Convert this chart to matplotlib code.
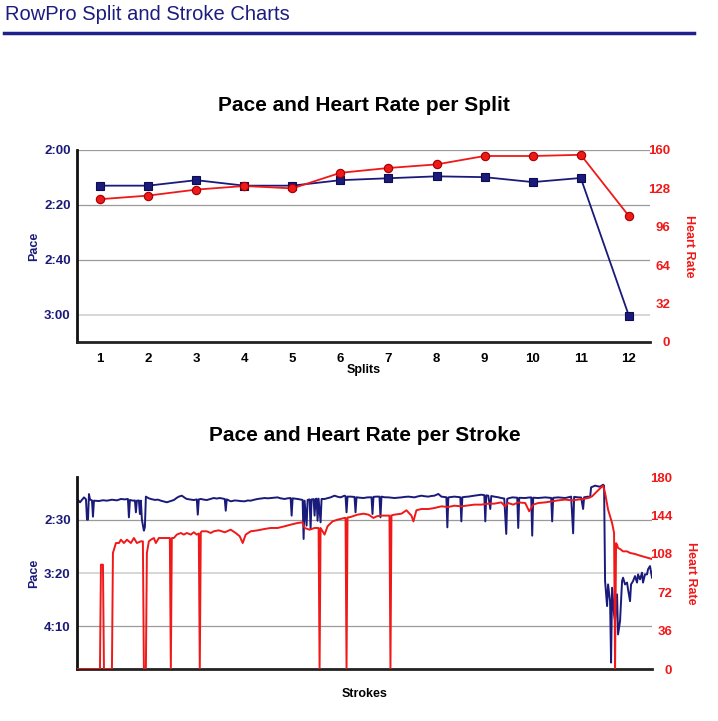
import matplotlib
matplotlib.use("Agg")
import matplotlib.pyplot as plt
from matplotlib.ticker import FuncFormatter
from matplotlib.lines import Line2D

plt.rcParams['font.family'] = ['Liberation Sans', 'DejaVu Sans']

# --- split data ---
splits = [1, 2, 3, 4, 5, 6, 7, 8, 9, 10, 11, 12]
split_pace = [133.0, 133.0, 131.0, 133.0, 133.0, 131.0, 130.3, 129.6, 129.9, 131.7, 130.2, 180.4]   # seconds / 500m
split_hr = [119, 122, 127, 130, 128, 141, 145, 148, 155, 155, 156, 105]

# --- per stroke data (stroke number, value) ---
stroke_pace_n = [0, 3, 7, 9, 10, 11, 12, 13, 15, 16, 17, 22, 26, 30, 35, 40, 44, 48, 51, 52, 53, 56, 58, 59, 60,
                 62, 63, 64, 65, 66, 67, 68, 69, 72, 74, 78, 81, 84, 87, 90, 94, 97, 100, 102, 105, 108, 110, 114,
                 117, 120, 121, 122, 124, 127, 130, 134, 137, 140, 143, 146, 148, 149, 150, 154, 158, 161, 164, 168,
                 171, 174, 178, 181, 184, 188, 191, 194, 198, 201, 204, 208, 211, 214, 215, 216, 219, 221, 224, 226,
                 227, 228, 230, 231, 233, 234, 235, 237, 238, 239, 240, 241, 242, 244, 245, 248, 251, 254, 258, 261,
                 264, 268, 269, 270, 271, 274, 278, 279, 280, 283, 287, 291, 295, 296, 297, 300, 303, 304, 305, 308,
                 312, 315, 318, 322, 325, 328, 332, 335, 338, 341, 345, 348, 352, 355, 358, 362, 365, 368, 370, 371,
                 372, 375, 378, 382, 384, 385, 386, 389, 392, 395, 398, 402, 405, 408, 409, 410, 412, 414, 415, 418,
                 422, 425, 428, 430, 431, 433, 436, 439, 441, 442, 443, 446, 449, 452, 455, 456, 457, 460, 462, 466,
                 469, 472, 475, 476, 477, 480, 482, 486, 489, 492, 495, 497, 498, 502, 505, 507, 508, 512, 514, 515,
                 519, 522, 524, 527, 528, 529, 531, 532, 534, 535, 536, 538, 539, 541, 542, 544, 546, 547, 549, 551,
                 552, 554, 555, 557, 559, 561, 562, 564, 566, 567, 569, 571, 572, 574, 576]
stroke_pace = [130.6, 133.7, 129.1, 131.0, 150.0, 150.0, 126.0, 131.0, 132.0, 147.2, 132.2, 132.5, 131.8, 132.2,
               131.3, 131.9, 130.6, 131.0, 130.6, 147.8, 131.5, 132.2, 132.0, 143.1, 132.2, 132.0, 144.7, 132.2,
               150.0, 155.0, 160.3, 157.0, 128.4, 130.0, 130.6, 131.5, 131.2, 132.2, 133.0, 133.7, 132.5, 131.6,
               129.5, 128.4, 127.5, 129.5, 130.6, 131.2, 131.6, 131.0, 145.3, 131.0, 130.6, 131.2, 131.6, 130.5,
               129.7, 130.2, 129.7, 130.3, 130.6, 141.6, 131.0, 132.8, 132.0, 132.2, 132.6, 132.8, 132.0, 132.2,
               131.2, 130.6, 130.2, 129.7, 130.0, 129.7, 129.4, 129.1, 130.0, 130.6, 130.0, 129.7, 146.2, 130.0,
               130.3, 130.6, 131.2, 131.5, 168.1, 132.2, 155.6, 131.5, 131.0, 158.7, 131.0, 130.8, 146.2, 130.6,
               130.3, 151.0, 130.3, 152.5, 130.6, 130.6, 129.8, 129.1, 127.5, 128.5, 129.1, 127.5, 128.0, 143.1,
               128.4, 128.4, 128.7, 143.1, 129.0, 129.4, 129.7, 129.1, 129.0, 144.7, 128.6, 128.4, 128.4, 147.8,
               128.4, 129.0, 129.1, 129.4, 129.7, 129.4, 129.1, 128.7, 128.4, 128.8, 129.1, 128.3, 127.5, 128.0,
               128.4, 127.8, 127.5, 125.9, 128.4, 128.8, 129.0, 157.2, 129.1, 128.7, 128.4, 128.8, 129.0, 151.6,
               129.0, 128.6, 128.4, 127.9, 127.5, 127.0, 126.6, 127.0, 151.6, 127.2, 127.5, 140.0, 127.8, 128.4,
               129.0, 129.7, 130.2, 163.4, 130.4, 129.8, 129.1, 129.3, 129.4, 157.8, 129.5, 129.6, 129.7, 129.3,
               129.1, 165.0, 129.4, 129.6, 129.7, 129.4, 129.1, 129.4, 129.6, 151.6, 129.5, 129.3, 129.1, 129.4,
               129.7, 129.0, 128.4, 162.8, 128.6, 129.1, 129.2, 140.0, 129.0, 128.4, 129.1, 119.7, 118.1, 118.8,
               119.1, 117.2, 118.1, 207.6, 231.0, 210.7, 226.4, 284.0, 213.8, 238.8, 245.0, 220.0, 257.6, 245.0,
               207.6, 204.4, 210.7, 209.0, 215.4, 226.4, 210.7, 207.6, 202.9, 209.0, 201.3, 206.0, 199.7, 209.0,
               201.3, 201.3, 196.6, 193.5, 204.4]

stroke_hr_n = [0, 23, 24, 26, 27, 35, 36, 39, 42, 44, 47, 50, 54, 57, 60, 64, 66, 67, 69, 70, 72, 74, 77, 79, 82,
               85, 88, 93, 94, 95, 97, 100, 104, 107, 110, 114, 117, 120, 122, 123, 124, 125, 130, 134, 137, 142,
               148, 154, 159, 163, 166, 169, 174, 181, 188, 194, 201, 208, 214, 221, 226, 228, 233, 238, 242, 243,
               244, 248, 251, 256, 261, 268, 269, 270, 271, 274, 278, 281, 287, 292, 297, 300, 305, 312, 313, 314,
               315, 318, 325, 330, 335, 337, 340, 345, 352, 358, 365, 372, 378, 385, 392, 398, 405, 412, 418, 425,
               429, 432, 437, 442, 449, 453, 457, 462, 469, 476, 482, 489, 496, 502, 507, 512, 516, 521, 526, 527,
               529, 532, 536, 538, 539, 540, 541, 542, 544, 547, 551, 554, 559, 564, 569, 576]
stroke_hr = [0, 0, 97.8, 97.8, 0, 0, 108.8, 118.1, 118.1, 121.2, 118.1, 121.2, 118.1, 122.8, 118.1, 119.7, 119.7,
             0, 0, 108.8, 119.7, 121.2, 122.8, 118.1, 122.8, 122.8, 122.8, 122.8, 0, 122.8, 122.8, 126.0, 127.5,
             126.0, 127.5, 126.0, 128.2, 126.0, 127.0, 0, 128.0, 129.1, 129.1, 127.5, 129.1, 130.0, 128.2, 130.6,
             127.5, 124.4, 118.1, 126.0, 129.1, 130.0, 131.3, 132.2, 132.2, 133.8, 135.3, 136.9, 137.5, 132.2,
             130.6, 132.2, 132.2, 0, 132.2, 126.0, 133.8, 138.4, 140.0, 141.6, 141.6, 0, 142.0, 142.5, 143.8,
             144.7, 145.6, 144.7, 141.6, 143.1, 143.8, 143.8, 143.8, 0, 144.0, 144.7, 145.6, 148.8, 143.8, 138.4,
             148.8, 150.0, 150.0, 150.9, 152.5, 151.9, 153.1, 152.5, 153.4, 154.1, 154.1, 155.0, 155.0, 156.2,
             152.5, 155.6, 154.1, 156.2, 155.6, 147.8, 154.1, 155.6, 156.2, 157.2, 158.1, 158.8, 158.1, 158.8,
             159.4, 160.3, 161.9, 166.6, 171.2, 171.9, 165.0, 149.4, 136.9, 127.5, 0, 118.0, 116.6, 113.4, 112.5,
             110.3, 110.3, 108.8, 107.8, 106.3, 105.0, 103.1]

NAVY = '#1a1a7a'
RED = '#f01818'
GRID = '#9a9a9a'
GRID_LIGHT = '#d6d6d6'
W, H = 718, 721


def pace_fmt(v, pos):
    v = int(round(v))
    return "%d:%02d" % (v // 60, v % 60)


def style(ax, axr, light_tick):
    for s in ['top', 'right']:
        ax.spines[s].set_visible(False)
    for s in axr.spines.values():
        s.set_visible(False)
    ax.spines['left'].set_linewidth(2)
    ax.spines['bottom'].set_linewidth(2)
    ax.spines['left'].set_color('#111111')
    ax.spines['bottom'].set_color('#222222')
    ax.grid(axis='y', color=GRID, lw=0.9)
    ax.set_axisbelow(True)
    ax.get_ygridlines()[light_tick].set_color(GRID_LIGHT)
    ax.get_ygridlines()[light_tick].set_linewidth(1.4)
    ax.yaxis.set_major_formatter(FuncFormatter(pace_fmt))
    ax.tick_params(axis='y', length=0, pad=4.5, labelsize=9.5, labelcolor=NAVY)
    for t in ax.get_yticklabels():
        t.set_fontweight('bold')
    axr.tick_params(axis='y', length=0, pad=14.5, labelsize=9.5, labelcolor=RED)
    for t in axr.yaxis.get_major_ticks():
        t.label2.set_horizontalalignment('right')
        t.label2.set_fontweight('bold')
    ax.set_ylabel('Pace', color=NAVY, fontsize=9, fontweight='bold', labelpad=3)
    axr.set_ylabel('Heart Rate', color=RED, fontsize=9, fontweight='bold', rotation=270,
                   labelpad=9.5, va='bottom')


fig = plt.figure(figsize=(W / 100, H / 100), dpi=100)

fig.text(5 / W, 1 - 15 / H, 'RowPro Split and Stroke Charts', color='#1c1c80', fontsize=14.5, va='center')
fig.add_artist(Line2D([4 / W, 694 / W], [1 - 33 / H, 1 - 33 / H], color='#20208c', lw=2.5))

# --- top chart: per split ---
ax1 = fig.add_axes([77 / W, 1 - 342 / H, 573 / W, 192 / H])
ax1.plot(splits, split_pace, color=NAVY, lw=1.3, marker='s', ms=6.2, mfc=NAVY, mec='#0c0c50', mew=0.8)
ax1.set_xlim(0.52, 12.44)
ax1.set_ylim(190, 120)
ax1.set_yticks([120, 140, 160, 180])
ax1.set_xticks(splits)
ax1.tick_params(axis='x', length=0, pad=8, labelsize=9.5)
for t in ax1.get_xticklabels():
    t.set_fontweight('bold')
ax1.set_xlabel('Splits', fontsize=9, fontweight='bold', labelpad=-1)
ax1.set_title('Pace and Heart Rate per Split', fontsize=15, fontweight='bold', pad=28)

ax1r = ax1.twinx()
ax1r.plot(splits, split_hr, color=RED, lw=1.3, marker='o', ms=6, mfc=RED, mec='#a00000', mew=0.8)
ax1r.set_ylim(0, 160)
ax1r.set_yticks([0, 32, 64, 96, 128, 160])
style(ax1, ax1r, 3)

# --- bottom chart: per stroke ---
ax2 = fig.add_axes([77 / W, 1 - 669 / H, 575 / W, 192 / H])
ax2.plot(stroke_pace_n, stroke_pace, color=NAVY, lw=1.4)
ax2.set_xlim(0, 576)
ax2.set_ylim(290, 110)
ax2.set_yticks([150, 200, 250])
ax2.set_xticks([])
ax2.set_xlabel('Strokes', fontsize=9, fontweight='bold', labelpad=14)
ax2.set_title('Pace and Heart Rate per Stroke', fontsize=15, fontweight='bold', pad=26)

ax2r = ax2.twinx()
ax2r.plot(stroke_hr_n, stroke_hr, color=RED, lw=1.4)
ax2r.set_ylim(0, 180)
ax2r.set_yticks([0, 36, 72, 108, 144, 180])
style(ax2, ax2r, 1)

fig.savefig('out.png', dpi=100)
